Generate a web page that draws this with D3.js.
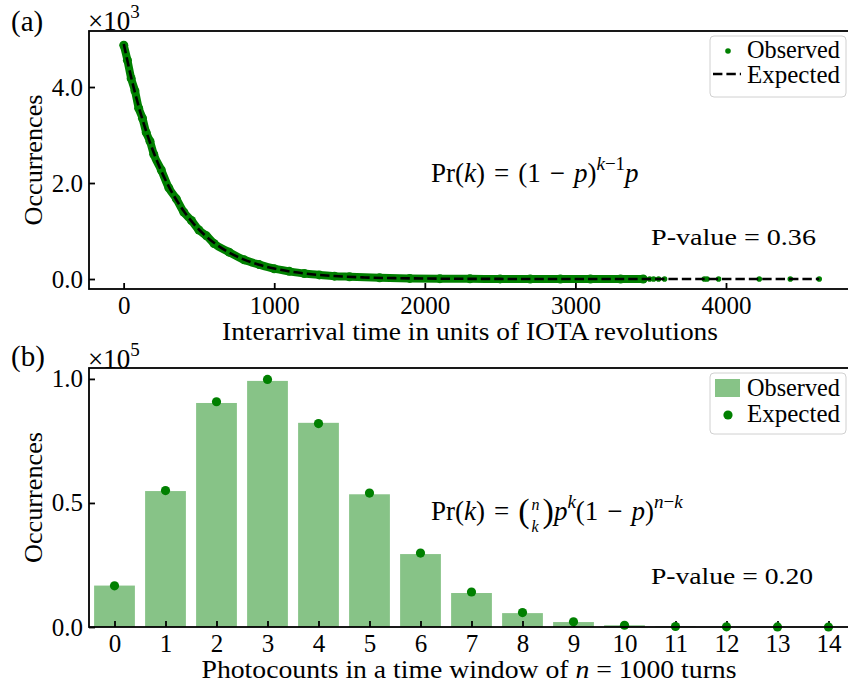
<!DOCTYPE html>
<html>
<head>
<meta charset="utf-8">
<script src="https://cdn.jsdelivr.net/npm/d3@7"></script>
<style>
  body { margin: 0; background: #fff; }
  text { font-family: 'Liberation Serif', 'Times New Roman', serif; fill: #000; }
</style>
</head>
<body>
<div id="chart"></div>
<script>
const obsX = [1, 25, 50, 75, 100, 125, 150, 175, 200, 250, 300, 350, 400, 450, 500, 550, 600, 700, 800, 900,
  1000, 1100, 1200, 1300, 1400, 1500, 1700, 1900, 2100, 2300, 2500, 2700, 2900, 3100, 3300, 3450];
const obsY = [4870, 4560, 4180, 3920, 3560, 3350, 3050, 2870, 2600, 2270, 1900, 1670, 1390, 1220, 1020, 900, 740, 560, 400, 300,
  215, 160, 115, 86, 60, 47, 25, 13, 7, 4, 2, 1, 1, 1, 1, 1];
const tailX = [3493, 3519, 3552, 3592, 3856, 3874, 3951, 4221, 4427, 4619];
const tailY = [1, 1, 1, 1, 1, 1, 1, 1, 1, 1];
const expX = [1, 50, 100, 150, 200, 250, 300, 400, 500, 600, 700, 800, 900, 1000, 1200, 1400, 1600, 1800, 2000, 2500, 3000, 3500, 4000, 4619];
const expY = [4895, 4201, 3594, 3075, 2631, 2250, 1926, 1410, 1032, 755, 553, 405, 296, 217, 116, 62, 33, 18, 10, 2, 0.4, 0.1, 0, 0];
const aXTicks = [0, 1000, 2000, 3000, 4000];
const aYTicks = [0, 2000, 4000];

// panel (b): photocounts per window (units of 1e5)
const counts = [0, 1, 2, 3, 4, 5, 6, 7, 8, 9, 10, 11, 12, 13, 14];
const observed = [0.167, 0.548, 0.903, 0.992, 0.823, 0.535, 0.294, 0.137, 0.056, 0.020, 0.007, 0.002, 0.0005, 0.0001, 0];
const expected = [0.166, 0.550, 0.908, 0.998, 0.820, 0.540, 0.298, 0.141, 0.058, 0.021, 0.007, 0.002, 0.0006, 0.00015, 0.00003];
const bYTicks = [0, 0.5, 1.0];

const W = 848, H = 683;
const left = 89, right = 854;
const dash = '9.4,4';
const sp = '\u2004'; // math spacing around = and −
const svg = d3.select('#chart').append('svg')
  .attr('width', W).attr('height', H);

const addText = (g, x, y, str, size, opts = {}) => {
  const t = g.append('text').attr('x', x).attr('y', y)
    .style('font-size', size + 'px').text(str);
  if (opts.anchor) t.attr('text-anchor', opts.anchor);
  if (opts.italic) t.style('font-style', 'italic');
  if (opts.len) t.attr('textLength', opts.len).attr('lengthAdjust', 'spacingAndGlyphs');
  if (opts.transform) t.attr('transform', opts.transform);
  return t;
};
const width = t => t.node().getComputedTextLength();

const styleAxis = g => {
  g.select('.domain').remove();
  g.selectAll('.tick line').attr('stroke', '#000').attr('stroke-width', 1.8);
  g.selectAll('.tick text').style('font-size', '25px')
    .style('font-family', "'Liberation Serif', 'Times New Roman', serif");
};

// ---------- panel (a) ----------
const aTop = 31, aBot = 289;
const xa = d3.scaleLinear().domain([-230, 4850]).range([left, right]);
const ya = d3.scaleLinear().domain([-208, 5167]).range([aBot, aTop]);
const ga = svg.append('g');

ga.append('g').attr('transform', `translate(0,${aBot})`)
  .call(d3.axisBottom(xa).tickValues(aXTicks).tickFormat(d3.format('d')).tickSizeInner(-6).tickSizeOuter(0).tickPadding(7))
  .call(styleAxis);
ga.append('g').attr('transform', `translate(${left},0)`)
  .call(d3.axisLeft(ya).tickValues(aYTicks).tickFormat(d => (d / 1000).toFixed(1)).tickSizeInner(-6).tickSizeOuter(0).tickPadding(6))
  .call(styleAxis);

const obsPts = obsX.map((x, i) => [x, obsY[i]]);
ga.append('path')
  .datum(obsPts)
  .attr('fill', 'none').attr('stroke', 'green').attr('stroke-width', 8)
  .attr('stroke-linejoin', 'round').attr('stroke-linecap', 'round')
  .attr('d', d3.line().x(d => xa(d[0])).y(d => ya(d[1])).curve(d3.curveMonotoneX));
ga.selectAll('.obs')
  .data(obsPts.concat(tailX.map((x, i) => [x, tailY[i]])))
  .join('circle')
  .attr('class', 'obs')
  .attr('cx', d => xa(d[0])).attr('cy', d => ya(d[1]))
  .attr('r', (d, i) => i < obsX.length ? 4.5 : 2.8)
  .attr('fill', 'green');
ga.append('path')
  .datum(expX.map((x, i) => [x, expY[i]]))
  .attr('fill', 'none').attr('stroke', '#000').attr('stroke-width', 2.6)
  .attr('stroke-dasharray', dash)
  .attr('d', d3.line().x(d => xa(d[0])).y(d => ya(d[1])).curve(d3.curveMonotoneX));

ga.append('rect').attr('x', left).attr('y', aTop)
  .attr('width', right - left).attr('height', aBot - aTop)
  .attr('fill', 'none').attr('stroke', '#000').attr('stroke-width', 1.8);

addText(ga, 11, 31, '(a)', 29);
const ma = addText(ga, 88, 30, '×10', 27);
ma.append('tspan').attr('dy', -12).style('font-size', '19px').text('3');
addText(ga, 42, (aTop + aBot) / 2, 'Occurrences', 25,
  {anchor: 'middle', len: 131, transform: `rotate(-90, 42, ${(aTop + aBot) / 2})`});
addText(ga, 470, 340, 'Interarrival time in units of IOTA revolutions', 25, {anchor: 'middle', len: 496});

const fa = addText(ga, 431, 182, 'Pr(', 27);
fa.append('tspan').style('font-style', 'italic').text('k');
fa.append('tspan').text(`)${sp}=${sp}(1${sp}−${sp}`);
fa.append('tspan').style('font-style', 'italic').text('p');
fa.append('tspan').text(')');
fa.append('tspan').attr('dy', -12).style('font-size', '19px').style('font-style', 'italic').text('k');
fa.append('tspan').style('font-size', '19px').text('−1');
fa.append('tspan').attr('dy', 12).style('font-style', 'italic').text('p');
addText(ga, 651, 245, 'P-value = 0.36', 24, {len: 165});

// legend (a)
const la = ga.append('g');
la.append('rect').attr('x', 710).attr('y', 36).attr('width', 136).attr('height', 61)
  .attr('rx', 4).attr('fill', '#fff').attr('fill-opacity', 0.8).attr('stroke', '#d0d0d0');
la.append('circle').attr('cx', 728).attr('cy', 51).attr('r', 2.8).attr('fill', 'green');
addText(la, 747, 58, 'Observed', 25, {len: 93});
la.append('line').attr('x1', 713).attr('x2', 741).attr('y1', 74).attr('y2', 74)
  .attr('stroke', '#000').attr('stroke-width', 2.6).attr('stroke-dasharray', dash);
addText(la, 747, 83, 'Expected', 25, {len: 93});

// ---------- panel (b) ----------
const bTop = 368, bBot = 627;
const xb = d3.scaleLinear().domain([-0.5, 14.5]).range([left, right]);
const yb = d3.scaleLinear().domain([0, 1.044]).range([bBot, bTop]);
const gb = svg.append('g');
const bw = (xb(1) - xb(0)) * 0.8;

gb.selectAll('.bar')
  .data(counts)
  .join('rect')
  .attr('class', 'bar')
  .attr('x', d => xb(d) - bw / 2)
  .attr('y', (d, i) => yb(observed[i]))
  .attr('width', bw)
  .attr('height', (d, i) => yb(0) - yb(observed[i]))
  .attr('fill', 'green').attr('fill-opacity', 0.47);

gb.append('g').attr('transform', `translate(0,${bBot})`)
  .call(d3.axisBottom(xb).tickValues(counts).tickFormat(d3.format('d')).tickSizeInner(-6).tickSizeOuter(0).tickPadding(7))
  .call(styleAxis);
gb.append('g').attr('transform', `translate(${left},0)`)
  .call(d3.axisLeft(yb).tickValues(bYTicks).tickFormat(d3.format('.1f')).tickSizeInner(-6).tickSizeOuter(0).tickPadding(6))
  .call(styleAxis);

gb.selectAll('.exp')
  .data(counts)
  .join('circle')
  .attr('class', 'exp')
  .attr('cx', d => xb(d))
  .attr('cy', (d, i) => yb(expected[i]))
  .attr('r', 4.6)
  .attr('fill', 'green');

gb.append('rect').attr('x', left).attr('y', bTop)
  .attr('width', right - left).attr('height', bBot - bTop)
  .attr('fill', 'none').attr('stroke', '#000').attr('stroke-width', 1.8);

addText(gb, 11, 366, '(b)', 29);
const mb = addText(gb, 88, 368, '×10', 27);
mb.append('tspan').attr('dy', -12).style('font-size', '19px').text('5');
addText(gb, 42, (bTop + bBot) / 2, 'Occurrences', 25,
  {anchor: 'middle', len: 131, transform: `rotate(-90, 42, ${(bTop + bBot) / 2})`});
const xl = addText(gb, 469, 678, 'Photocounts in a time window of ', 25, {anchor: 'middle', len: 535});
xl.append('tspan').style('font-style', 'italic').text('n');
xl.append('tspan').text(' = 1000 turns');

// binomial formula, laid out piece by piece
const fy = 520;
const f1 = addText(gb, 431, fy, 'Pr(', 27);
f1.append('tspan').style('font-style', 'italic').text('k');
f1.append('tspan').text(`)${sp}=${sp}`);
f1.append('tspan').style('font-size', '34px').attr('dy', 2).text('(');
let fx = 431 + width(f1);
const nTop = addText(gb, fx + 2, fy - 10, 'n', 16, {italic: true});
const kBot = addText(gb, fx + 2, fy + 12, 'k', 16, {italic: true});
fx += Math.max(width(nTop), width(kBot)) + 5;
const f2 = addText(gb, fx, fy + 2, ')', 34);
f2.append('tspan').attr('dy', -2).style('font-size', '27px').style('font-style', 'italic').text('p');
f2.append('tspan').attr('dy', -12).style('font-size', '19px').style('font-style', 'italic').text('k');
f2.append('tspan').attr('dy', 12).style('font-size', '27px').text(`(1${sp}−${sp}`);
f2.append('tspan').style('font-size', '27px').style('font-style', 'italic').text('p');
f2.append('tspan').style('font-size', '27px').text(')');
f2.append('tspan').attr('dy', -12).style('font-size', '19px').style('font-style', 'italic').text('n');
f2.append('tspan').style('font-size', '19px').text('−');
f2.append('tspan').style('font-size', '19px').style('font-style', 'italic').text('k');
addText(gb, 651, 584, 'P-value = 0.20', 24, {len: 162});

// legend (b)
const lb = gb.append('g');
lb.append('rect').attr('x', 710).attr('y', 373).attr('width', 136).attr('height', 61)
  .attr('rx', 4).attr('fill', '#fff').attr('fill-opacity', 0.8).attr('stroke', '#d0d0d0');
lb.append('rect').attr('x', 715).attr('y', 379).attr('width', 25).attr('height', 18)
  .attr('fill', 'green').attr('fill-opacity', 0.47);
addText(lb, 747, 396, 'Observed', 25, {len: 93});
lb.append('circle').attr('cx', 728).attr('cy', 415).attr('r', 4.6).attr('fill', 'green');
addText(lb, 747, 422, 'Expected', 25, {len: 93});
</script>
</body>
</html>
